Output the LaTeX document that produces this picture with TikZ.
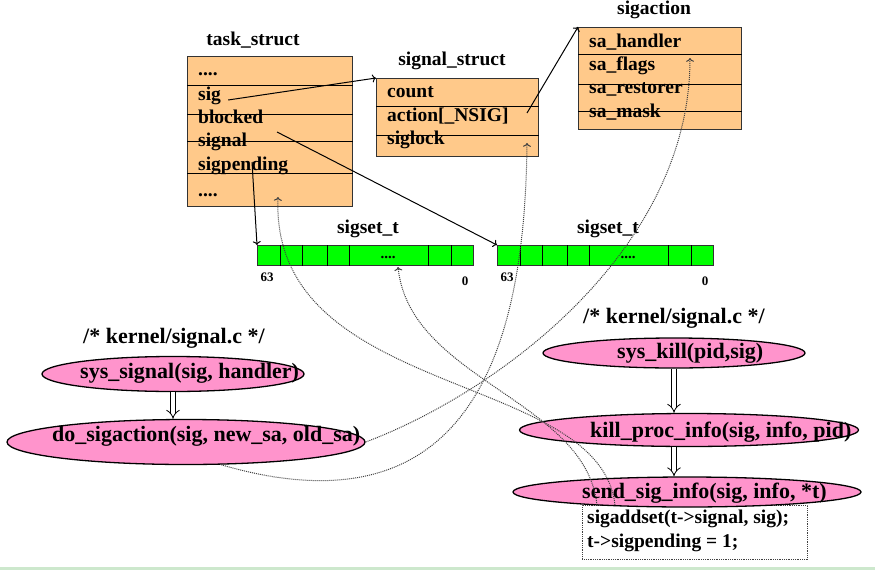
\documentclass[tikz,border=0pt]{standalone}
\usepackage{fontspec}
\setmainfont{Liberation Serif}
\usetikzlibrary{shapes.geometric,arrows.meta}

\definecolor{boxorange}{HTML}{FFC98A}
\definecolor{funcpink}{HTML}{FF94CC}
\definecolor{setgreen}{HTML}{00FF00}
\definecolor{linkgray}{HTML}{404040}
\definecolor{framegreen}{HTML}{CDE8CD}

\tikzset{
  structbox/.style={draw=black!80, line width=1.2pt, fill=boxorange, anchor=north west, inner sep=0},
  field/.style={anchor=base west, inner sep=0, font=\fontsize{19.5}{22}\selectfont\bfseries},
  title/.style={anchor=base, inner sep=0, font=\fontsize{19.5}{22}\selectfont\bfseries},
  setbar/.style={draw=black!80, line width=1pt, fill=setgreen, anchor=north west, minimum width=216, minimum height=20, inner sep=0},
  bitnum/.style={inner sep=0, font=\fontsize{13}{15}\selectfont\bfseries},
  func/.style={ellipse, draw=black, line width=1.3pt, fill=funcpink, inner sep=0},
  functext/.style={anchor=base west, inner sep=0, font=\fontsize{22}{26}\selectfont\bfseries},
  dblarrow/.style={double, double distance=4pt, line width=0.8pt, -{Implies}},
  link/.style={densely dotted, draw=linkgray, line width=1pt, ->},
  ptr/.style={line width=1pt, ->}
}

\begin{document}
\begin{tikzpicture}[x=1pt, y=-1pt]
    \useasboundingbox (0,0) rectangle (875,570);
    \fill[framegreen] (0,567) rectangle (875,570);

    % task_struct
    \node[title] (taskName) at (253,45) {task\_struct};
    \node[structbox, minimum width=165, minimum height=150] (task) at (187,56) {};
    \foreach \ry in {85,114,141,173}
        \draw[line width=1pt] (task.west |- 0,\ry) -- (task.east |- 0,\ry);
    \node[field] (tdots) at (198,75) {....};
    \node[field] (tsig) at (198,100) {sig};
    \node[field] (tblocked) at (198,123) {blocked};
    \node[field] (tsignal) at (198,146) {signal};
    \node[field] (tpending) at (198,170) {sigpending};
    \node[field] (tdots2) at (198,196) {....};

    % signal_struct
    \node[title] (sigstructName) at (452,65) {signal\_struct};
    \node[structbox, minimum width=162, minimum height=78] (sigstruct) at (376,78) {};
    \foreach \ry in {106,135}
        \draw[line width=1pt] (sigstruct.west |- 0,\ry) -- (sigstruct.east |- 0,\ry);
    \node[field] (scount) at (387,97) {count};
    \node[field] (saction) at (387,121) {action[\_NSIG]};
    \node[field] (slock) at (387,144) {siglock};

    % sigaction
    \node[title] (sigactName) at (654,14) {sigaction};
    \node[structbox, minimum width=163, minimum height=102] (sigact) at (578,27) {};
    \foreach \ry in {54,84,111}
        \draw[line width=1pt] (sigact.west |- 0,\ry) -- (sigact.east |- 0,\ry);
    \node[field] (ahandler) at (589,47) {sa\_handler};
    \node[field] (aflags) at (589,70) {sa\_flags};
    \node[field] (arestorer) at (589,93) {sa\_restorer};
    \node[field] (amask) at (589,117) {sa\_mask};

    % sigset_t bars
    \foreach \n/\x in {setL/257, setR/497} {
        \node[setbar] (\n) at (\x,245) {};
        \foreach \cx in {23,45,70,92,171,194}
            \draw[line width=0.8pt] ([xshift=\cx]\n.north west) -- ([xshift=\cx]\n.south west);
        \node[title] (\n-title) at (\x+111,233) {sigset\_t};
        \node[anchor=base, inner sep=0, font=\fontsize{15}{17}\selectfont\bfseries] (\n-dots) at (\x+131,258) {....};
        \node[bitnum] (\n-hi) at (\x+10,277) {63};
        \node[bitnum] (\n-lo) at (\x+208,281) {0};
    }

    % kernel/signal.c, left
    \node[functext] (cmtL) at (83,343) {/* kernel/signal.c */};
    \node[func, minimum width=262, minimum height=35] (sysSignal) at (173,374) {};
    \node[functext] (sysSignalTxt) at (80,378) {sys\_signal(sig, handler)};
    \node[func, minimum width=358, minimum height=45] (doAction) at (186,442) {};
    \node[functext] (doActionTxt) at (52,441) {do\_sigaction(sig, new\_sa, old\_sa)};
    \draw[dblarrow] (sysSignal.south) -- (sysSignal.south |- doAction.north);

    % kernel/signal.c, right
    \node[draw=linkgray, densely dotted, line width=0.8pt, anchor=north west, minimum width=225, minimum height=54, inner sep=0] (addBox) at (582,505) {};
    \node[field] (addTxt1) at (587,523) {sigaddset(t->signal, sig);};
    \node[field] (addTxt2) at (587,547) {t->sigpending = 1;};
    \node[functext] (cmtR) at (583,323) {/* kernel/signal.c */};
    \node[func, minimum width=262, minimum height=30] (sysKill) at (674,353) {};
    \node[functext] (sysKillTxt) at (617,358) {sys\_kill(pid,sig)};
    \node[func, minimum width=339, minimum height=33] (killProc) at (689,430) {};
    \node[functext] (killProcTxt) at (590,437) {kill\_proc\_info(sig, info, pid)};
    \node[func, minimum width=348, minimum height=30] (sendSig) at (687,492) {};
    \node[functext] (sendSigTxt) at (582,498) {send\_sig\_info(sig, info, *t)};
    \draw[dblarrow] (sysKill.south) -- (sysKill.south |- killProc.north);
    \draw[dblarrow] (sysKill.south |- killProc.south) -- (sysKill.south |- sendSig.north);

    % pointers
    \coordinate (actOut) at (527,113);
    \coordinate (blkOut) at (277,132);
    \coordinate (pendOut) at (252,162);
    \draw[ptr] ([xshift=7]tsig.base east) -- (sigstruct.north west);
    \draw[ptr] (actOut) -- (sigact.north west);
    \draw[ptr] (blkOut) -- (setR.north west);
    \draw[ptr] (pendOut) -- (setL.north west);

    % what the functions touch
    \coordinate (flagsIn) at (690,58);
    \coordinate (lockIn) at (527,143);
    \coordinate (pendIn) at (278,197);
    \coordinate (setIn) at (398,267);
    \draw[link] (doAction.east) .. controls +(133,-50) and +(0,192) .. (flagsIn);
    \draw[link] (doAction.-33) .. controls +(260,76) and +(-2,187) .. (lockIn);
    \draw[link] ([xshift=33]addBox.north west) .. controls +(-15,-135) and +(-8,203) .. (pendIn);
    \draw[link] ([xshift=15]addBox.north west) .. controls +(-11,-105) and +(12,113) .. (setIn);
\end{tikzpicture}
\end{document}
